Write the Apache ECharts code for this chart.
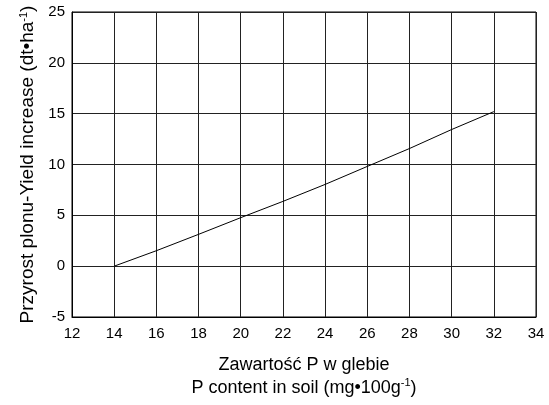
<!DOCTYPE html>
<html>
<head>
<meta charset="utf-8">
<script src="https://cdn.jsdelivr.net/npm/echarts@6/dist/echarts.min.js"></script>
<style>
  html, body { margin: 0; padding: 0; background: #fff; }
  #chart { width: 549px; height: 405px; }
</style>
</head>
<body>
<div id="chart"></div>
<script>
const pContent = [14, 16, 18, 20, 22, 24, 26, 28, 30, 32]
const yieldIncrease = [0, 1.52, 3.13, 4.77, 6.37, 8.04, 9.81, 11.57, 13.44, 15.2]

const myChart = echarts.init(document.getElementById('chart'))
const font = 'Liberation Sans, Arial, sans-serif'

const option = {
    animation: false,
    grid: { left: 72, right: 13, top: 12, bottom: 81, show: true, borderColor: '#000', borderWidth: 1 },
    xAxis: {
        type: 'value',
        min: 12, max: 34, interval: 2,
        axisLine: { show: true, onZero: false, lineStyle: { color: '#000' } },
        axisTick: { show: false },
        splitLine: { show: true, lineStyle: { color: '#222', width: 1 } },
        axisLabel: { color: '#000', fontSize: 15, fontFamily: font, margin: 9 },
        name: '{a|Zawartość P w glebie}\n{a|P content in soil (mg•100g}{s|-1}{a|)}',
        nameLocation: 'middle',
        nameGap: 37,
        nameTextStyle: {
            lineHeight: 23,
            rich: {
                a: { fontSize: 18, fontFamily: font, color: '#000', lineHeight: 23 },
                s: { fontSize: 11, fontFamily: font, color: '#000', verticalAlign: 'top', padding: [0, 0, 8, 0] }
            }
        }
    },
    yAxis: {
        type: 'value',
        min: -5, max: 25, interval: 5,
        axisLine: { show: true, onZero: false, lineStyle: { color: '#000' } },
        axisTick: { show: false },
        splitLine: { show: true, lineStyle: { color: '#222', width: 1 } },
        axisLabel: { color: '#000', fontSize: 15, fontFamily: font, margin: 7 },
        name: '{a|Przyrost plonu-Yield increase (dt•ha}{s|-1}{a|)}',
        nameLocation: 'middle',
        nameGap: 27,
        nameTextStyle: {
            rich: {
                a: { fontSize: 19, fontFamily: font, color: '#000' },
                s: { fontSize: 11, fontFamily: font, color: '#000', verticalAlign: 'top', padding: [0, 0, 8, 0] }
            }
        }
    },
    series: [{
        type: 'line',
        data: pContent.map((x, i) => [x, yieldIncrease[i]]),
        showSymbol: false,
        lineStyle: { color: '#000', width: 1 }
    }]
}
myChart.setOption(option)
</script>
</body>
</html>
